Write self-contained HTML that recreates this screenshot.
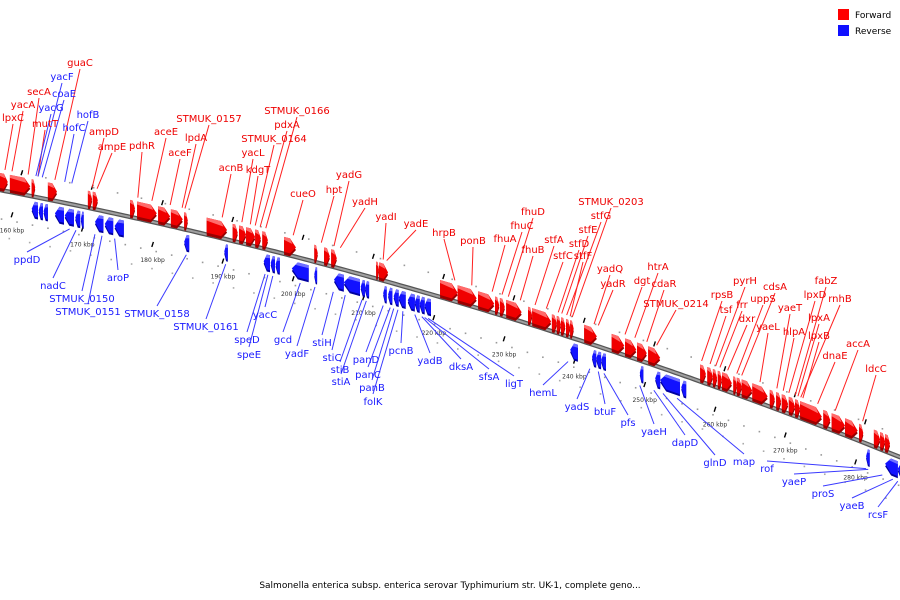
<!DOCTYPE html>
<html><head><meta charset="utf-8"><style>
html,body{margin:0;padding:0;background:#fff;}
svg{display:block;}
text{font-family:"DejaVu Sans","Liberation Sans",sans-serif;}
</style></head><body>
<svg id="chart" width="900" height="600" viewBox="0 0 900 600" xmlns="http://www.w3.org/2000/svg">
<g id="dots"></g>
<g id="axis"></g>
<g id="ticks"></g>
<g id="lines"></g>
<g id="genes"></g>
<g id="labels"></g>
<g>
<rect x="838" y="9" width="11" height="11" fill="#f00"/>
<text x="855" y="18" font-size="9" fill="#000">Forward</text>
<rect x="838" y="25" width="11" height="11" fill="#1010ff"/>
<text x="855" y="34" font-size="9" fill="#000">Reverse</text>
</g>
<text x="450" y="588" font-size="9" text-anchor="middle" fill="#000">Salmonella enterica subsp. enterica serovar Typhimurium str. UK-1, complete geno...</text>
</svg>
<script>
// ---- data ----
const tickKbp = [160,170,180,190,200,210,220,230,240,250,260,270,280];
const tickLabels = ["160 kbp","170 kbp","180 kbp","190 kbp","200 kbp","210 kbp","220 kbp","230 kbp","240 kbp","250 kbp","260 kbp","270 kbp","280 kbp"];
const fwdStart = [158.3,159.7,162.8,165.1,170.8,171.5,176.8,177.8,180.8,182.6,184.5,187.7,191.4,192.3,193.3,194.6,195.6,198.7,203.0,204.4,205.4,211.8,212.2,220.9,223.4,226.3,228.7,229.4,230.3,233.4,234.0,236.8,237.5,238.1,238.8,239.4,241.4,245.3,247.2,248.9,250.5,257.9,258.9,259.7,260.4,261.0,262.6,263.1,263.8,265.3,267.8,268.7,269.5,270.5,271.4,272.1,275.4,276.6,278.5,280.5,282.6,283.5,284.2];
const fwdEnd   = [159.4,162.6,163.3,166.4,171.4,172.2,177.5,180.6,182.5,184.3,185.0,190.6,192.1,193.3,194.6,195.4,196.4,200.4,203.5,205.2,206.2,212.2,213.5,223.4,226.1,228.6,229.3,230.1,232.5,234.0,236.7,237.5,238.1,238.7,239.4,239.9,243.2,247.1,248.8,250.3,252.2,258.7,259.7,260.3,261.0,262.4,263.1,263.8,265.3,267.5,268.5,269.4,270.4,271.4,272.1,275.2,276.4,278.5,280.3,281.1,283.5,284.2,284.9];
const revStart = [162.8,163.8,164.5,166.1,167.5,169.0,169.8,171.8,173.2,174.6,184.5,190.2,195.8,196.8,197.5,199.8,203.0,205.8,207.2,209.6,210.2,212.8,213.5,214.3,215.0,216.3,217.3,218.0,218.7,239.4,242.5,243.1,243.8,249.3,251.5,252.2,255.2,281.5,284.2,286.0];
const revEnd   = [163.7,164.4,165.1,167.4,168.8,169.7,170.2,173.0,174.4,175.9,185.2,190.7,196.7,197.4,198.1,202.2,203.4,207.2,209.5,210.2,210.8,213.3,214.1,215.0,216.0,217.3,218.0,218.7,219.6,240.5,243.1,243.8,244.5,249.8,252.2,255.0,255.9,282.0,286.0,287.0];
const fwdNames = ["guaC","secA","yacA","lpxC","mutT","ampD","ampE","pdhR","aceE","aceF","lpdA","STMUK_0157","acnB","yacL","kdgT","STMUK_0164","pdxA","STMUK_0166","cueO","hpt","yadG","yadH","yadI","yadE","hrpB","ponB","fhuA","fhuC","fhuD","fhuB","stfA","stfC","stfD","stfE","stfG","STMUK_0203","stfF","yadQ","yadR","dgt","htrA","cdaR","STMUK_0214","rpsB","tsf","pyrH","frr","dxr","uppS","cdsA","yaeL","yaeT","hlpA","lpxD","fabZ","lpxA","rnhB","lpxB","dnaE","accA","ldcC"];
const fwdAnchor = [166.1,162.3,160.0,159.0,163.7,171.4,172.1,177.9,179.9,182.5,184.2,184.6,189.9,192.7,193.9,194.6,195.3,196.1,200.0,204.0,205.8,206.7,212.8,213.3,223.0,225.4,228.3,229.7,230.6,232.3,234.4,236.0,237.7,238.2,238.9,239.7,239.4,242.8,243.4,247.2,248.6,250.3,251.7,258.1,259.3,260.1,260.7,261.8,263.1,263.8,266.4,268.8,269.7,270.5,271.4,271.8,272.2,272.5,274.6,277.1,281.0];
const fwdLabelX = [80,39,23,13,45,104,112,142,166,180,196,209,231,253,258,274,287,297,303,334,349,365,386,416,444,473,505,522,533,533,554,563,579,588,601,611,583,610,613,642,658,664,676,722,726,745,742,747,763,775,768,790,794,815,826,819,840,819,835,858,876];
const fwdLabelY = [66,95,108,121,127,135,150,149,135,156,141,122,171,156,173,142,128,114,197,193,178,205,220,227,236,244,242,229,215,253,243,259,247,233,219,205,259,272,287,284,270,287,307,298,313,284,308,322,302,290,330,311,335,298,284,321,302,339,359,347,372];
const revNames = ["yacF","coaE","yacG","hofB","hofC","ppdD","nadC","STMUK_0150","STMUK_0151","aroP","STMUK_0158","STMUK_0161","yacC","speD","speE","gcd","yadF","stiH","stiC","stiB","stiA","panD","panC","panB","folK","pcnB","yadB","dksA","sfsA","ligT","hemL","yadS","btuF","pfs","yaeH","dapD","glnD","map","rof","yaeP","proS","yaeB","rcsF"];
const revAnchor = [163.7,164.3,163.4,168.5,167.5,168.2,169.1,171.8,172.8,174.6,184.8,190.4,197.1,196.0,196.4,201.0,203.1,205.7,207.4,209.8,210.4,212.8,213.8,214.3,214.9,215.6,217.3,218.3,218.7,219.2,239.1,242.2,243.4,244.2,249.3,251.3,252.6,254.6,281.5,281.8,283.8,285.3,286.0];
const revLabelX = [62,64,51,88,74,27,53,82,88,118,157,206,265,247,249,283,297,322,332,340,341,366,368,372,373,401,430,461,489,514,543,577,605,628,654,685,715,744,767,794,823,852,878];
const revLabelY = [80,97,111,118,131,263,289,302,315,281,317,330,318,343,358,343,357,346,361,373,385,363,378,391,405,354,364,370,380,387,396,410,415,426,435,446,466,465,472,485,497,509,518];

// ---- scales ----
function xs(k){ return 12 + (k-160)*7.03; }
function cy(x){ return 190 + 0.1917*x + 1.167e-4*x*x; }
const NS="http://www.w3.org/2000/svg";
function mk(tag, attrs, parent){ const e=document.createElementNS(NS,tag); for(const a in attrs) e.setAttribute(a,attrs[a]); parent.appendChild(e); return e; }

// axis
const axisG=document.getElementById('axis');
let pts=[]; for(let x=-5;x<=905;x+=5) pts.push(x+','+cy(x).toFixed(1));
const ax1=mk('polyline',{points:pts.join(' '),fill:'none',stroke:'#555','stroke-width':4.5},axisG);


const ax2=mk('polyline',{points:pts.join(' '),fill:'none',stroke:'#a0a0a0','stroke-width':2},axisG);



// dots
const dotsG=document.getElementById('dots');
for(let k=158;k<=292;k+=3.4){ const x=xs(k); if(x<0||x>900) continue;
  const d=mk('rect',{x:x-0.7,y:cy(x)-22,width:1.6,height:1.6,fill:'#999'},dotsG);
   }
for(let k=158.5;k<=292;k+=2.2){ const x=xs(k); if(x<0||x>900) continue;
  const d=mk('rect',{x:x-0.7,y:cy(x)+28,width:1.6,height:1.6,fill:'#999'},dotsG);
   }
for(let k=159.6;k<=292;k+=2.9){ const x=xs(k); if(x<0||x>900) continue;
  const d=mk('rect',{x:x-0.7,y:cy(x)+46,width:1.6,height:1.6,fill:'#aaa'},dotsG);
   }

// ticks
const tG=document.getElementById('ticks');
tickKbp.forEach((k,i)=>{ const x=xs(k), y=cy(x);
  const m=mk('line',{x1:x-0.8,y1:y+25,x2:x+0.8,y2:y+20,stroke:'#000','stroke-width':1.4},tG);
   
  const x2=xs(k+1.4), y2=cy(x2);
  const m2=mk('line',{x1:x2-0.8,y1:y2-19,x2:x2+0.8,y2:y2-24,stroke:'#000','stroke-width':1.4},tG);
   
  const t=mk('text',{x:x,y:y+40,'font-size':6,'text-anchor':'middle',fill:'#333'},tG);
   
  t.textContent=tickLabels[i];
});

// genes
const gG=document.getElementById('genes');
function poly(p,fill){ return mk('polygon',{points:p.map(q=>q[0].toFixed(1)+','+q[1].toFixed(1)).join(' '),fill:fill},gG); }
function fwd(x1,x2){ const h=Math.min(6,(x2-x1)*0.5), xh=x2-h;
  const sh=poly([[x1,cy(x1)-14],[xh,cy(xh)-14],[x2,cy(x2)-7],[xh,cy(xh)+1],[x1,cy(x1)+1]],'#9a0000');
   
  const g=poly([[x1,cy(x1)-17],[xh,cy(xh)-17],[x2,cy(x2)-9.5],[xh,cy(xh)-2],[x1,cy(x1)-2]],'#f00000');
   
  const hl=poly([[x1,cy(x1)-17],[xh,cy(xh)-17],[x2-h*0.6,cy(x2)-13],[x1,cy(x1)-14]],'#ff6b6b');
   
}
function rev(x1,x2){ const h=Math.min(6,(x2-x1)*0.5), xh=x1+h;
  const sh=poly([[x2,cy(x2)+8],[xh,cy(xh)+8],[x1,cy(x1)+15],[xh,cy(xh)+22],[x2,cy(x2)+22]],'#0000a0');
   
  const g=poly([[x2,cy(x2)+5],[xh,cy(xh)+5],[x1,cy(x1)+12.5],[xh,cy(xh)+20],[x2,cy(x2)+20]],'#1212ff');
   
  const hl=poly([[x2,cy(x2)+5],[xh,cy(xh)+5],[x1+h*0.6,cy(x1)+9],[x2,cy(x2)+8]],'#6f6fff');
   
}
fwdStart.forEach((s,i)=>fwd(xs(s),xs(fwdEnd[i])));
revStart.forEach((s,i)=>rev(xs(s),xs(revEnd[i])));

// labels
const lG=document.getElementById('lines'), labG=document.getElementById('labels');
fwdNames.forEach((n,i)=>{ const gx=xs(fwdAnchor[i]);
  const l=mk('line',{x1:fwdLabelX[i],y1:fwdLabelY[i]+3,x2:gx,y2:cy(gx)-21,stroke:'#ff2020','stroke-width':1},lG);
   
  const t=mk('text',{x:fwdLabelX[i],y:fwdLabelY[i],'font-size':10,'text-anchor':'middle',fill:'#ee0000'},labG);
   
  t.textContent=n;
});
revNames.forEach((n,i)=>{ const gx=xs(revAnchor[i]); const above=revLabelY[i]<cy(gx);
  const l=mk('line',{x1:revLabelX[i],y1:above?revLabelY[i]+3:revLabelY[i]-11,x2:gx,y2:above?cy(gx)-21:cy(gx)+25,stroke:'#3a3aff','stroke-width':1},lG);
   
  const t=mk('text',{x:revLabelX[i],y:revLabelY[i],'font-size':10,'text-anchor':'middle',fill:'#1a1aff'},labG);
   
  t.textContent=n;
});
</script>
</body></html>
